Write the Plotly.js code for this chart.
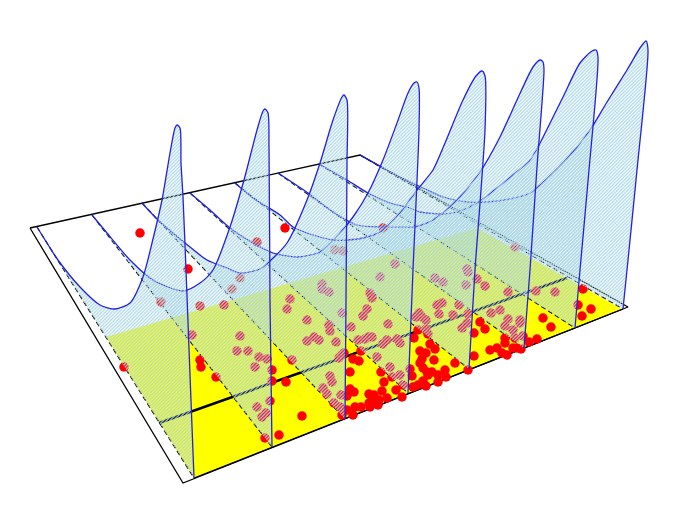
<!DOCTYPE html>
<html><head><meta charset="utf-8">
<script src="https://cdn.plot.ly/plotly-3.0.1.min.js"></script>
<style>html,body{margin:0;padding:0;background:#fff}#c{width:680px;height:506px}</style></head>
<body><div id="c"></div>
<script>
const curve1X=[37,58,80,100,115,130,143,152,162,170,175,177,180,181,183,186,190,194];
const curve1Y=[227,260,287,305,309,303,277,243,200,153,128,125,128,163,197,270,375,478];
const curve2X=[92,107,130,153,183,200,213,230,244,257,263,265,268,269,270,272];
const curve2Y=[215,233,260,280,291,283,270,227,180,130,111,109,113,147,300,447];
const curve3X=[142,158,185,207,227,240,260,271,287,307,320,333,342,344,347,347,346,345];
const curve3Y=[203,220,243,260,268,273,269,260,243,200,163,120,97,95,100,163,300,419];
const curve4X=[190,210,230,253,273,297,320,340,353,368,383,397,408,414,417,419,419,413,408];
const curve4Y=[193,210,228,243,253,257,252,233,217,193,160,123,93,83,82,88,130,270,393];
const curve5X=[235,253,280,293,313,333,347,363,380,400,417,433,445,463,476,482,485,485,475,469];
const curve5Y=[183,198,215,227,235,240,240,238,232,213,190,170,143,100,76,71,76,130,270,369];
const curve6X=[278,308,330,357,383,400,415,433,457,480,500,517,533,540,543,544,537,530,524];
const curve6Y=[173,193,210,225,227,227,227,220,200,172,137,100,67,60,62,70,167,270,348];
const curve7X=[319,347,368,390,410,420,443,457,477,503,530,538,563,580,592,596,598,589,580,575];
const curve7Y=[164,180,193,203,208,212,214,212,203,183,160,147,97,63,51,50,57,170,270,328];
const curve8X=[360,400,423,443,467,487,510,530,558,577,592,607,627,640,646,648,637,627,623];
const curve8Y=[155,177,188,197,202,202,199,193,168,147,127,102,70,48,41,50,170,270,309];
const frameX=[30,360,628,183,30];
const frameY=[228,155,307,483,228];
const floorX=[106,477,622,194];
const floorY=[337,228,309,478];
const frontEdgeX=[194,623];
const frontEdgeY=[478,309];
const crossX=[159,567];
const crossY=[423,278];
const dotsX=[140,285,257,188,335,343,383,395,515,467,240,232,161,200,224,322,322,329,290,287,342,307,329,330,192,240,314,307,319,336,237,248,259,267,292,339,344,200,201,255,124,272,330,332,216,272,286,323,327,270,341,334,340,257,266,262,302,279,265,342,380,435,443,468,477,466,485,508,536,555,583,370,372,442,437,459,367,363,578,591,582,500,491,468,439,453,419,416,422,426,388,351,508,520,520,505,543,551,480,467,462,485,474,513,515,418,426,428,537,529,523,414,368,372,365,358,387,383,397,400,505,505,497,490,502,507,513,517,521,430,435,420,426,361,474,434,422,420,377,353,359,342,455,390,423,427,445,432,381,410,412,468,428,350,400,392,438,446,384,423,438,403,426,418,413,396,350,354,347,382,369,374,387,402,372,379,369,378,355,361,370,347,353];
const dotsY=[233,228,242,269,250,251,228,264,247,269,278,289,302,306,305,284,289,292,299,309,313,320,325,331,335,336,337,341,340,342,351,351,357,359,360,358,353,360,367,367,367,370,376,382,377,381,382,388,394,401,395,403,407,407,413,417,416,435,438,415,277,278,282,272,279,285,286,292,291,292,289,293,298,303,305,305,309,316,305,309,316,310,313,314,314,315,313,317,317,320,324,327,319,320,323,326,318,327,322,323,328,329,333,330,338,330,329,334,339,342,336,338,337,337,339,340,340,344,339,343,338,343,348,350,353,355,348,348,349,344,349,351,353,351,356,360,359,363,357,359,361,355,363,367,368,372,370,372,372,369,376,370,375,372,375,377,375,377,382,381,382,385,386,385,387,390,389,392,396,391,394,395,398,397,400,400,403,405,407,407,407,410,415];

const curvesX=[curve8X,curve7X,curve6X,curve5X,curve4X,curve3X,curve2X,curve1X];
const curvesY=[curve8Y,curve7Y,curve6Y,curve5Y,curve4Y,curve3Y,curve2Y,curve1Y];
const traces=[];
traces.push({x:floorX,y:floorY,mode:'none',fill:'toself',fillcolor:'#ffff00',hoverinfo:'skip'});
traces.push({x:frameX,y:frameY,mode:'lines',line:{color:'#000',width:1.3},hoverinfo:'skip'});
traces.push({x:frontEdgeX,y:frontEdgeY,mode:'lines',line:{color:'#000',width:1.2},hoverinfo:'skip'});
traces.push({x:crossX,y:crossY,mode:'lines',line:{color:'#000',width:2.6},hoverinfo:'skip'});
curvesX.forEach((cx,i)=>{
  const cy=curvesY[i], n=cx.length-1;
  traces.push({x:[cx[0],cx[n]],y:[cy[0],cy[n]],mode:'lines',line:{color:'#000',width:1.2,dash:'5px,3px'},hoverinfo:'skip'});
});
traces.push({x:dotsX,y:dotsY,mode:'markers',marker:{color:'#ff0000',size:9.5,line:{width:0}},hoverinfo:'skip'});
curvesX.forEach((cx,i)=>{
  traces.push({x:cx,y:curvesY[i],mode:'lines',fill:'toself',fillcolor:'rgba(0,0,0,0)',
    fillpattern:{shape:'/',fgcolor:'#add8e6',bgcolor:'rgba(0,0,0,0)',size:2.4,solidity:0.55},
    line:{color:'#2222dd',width:1.3,shape:'spline',smoothing:0.7},hoverinfo:'skip'});
});
Plotly.newPlot('c',traces,{
  width:680,height:506,margin:{l:0,r:0,t:0,b:0},showlegend:false,
  paper_bgcolor:'#fff',plot_bgcolor:'#fff',
  xaxis:{range:[0,680],visible:false,fixedrange:true},
  yaxis:{range:[506,0],visible:false,fixedrange:true}
},{displayModeBar:false,staticPlot:true});
</script></body></html>
